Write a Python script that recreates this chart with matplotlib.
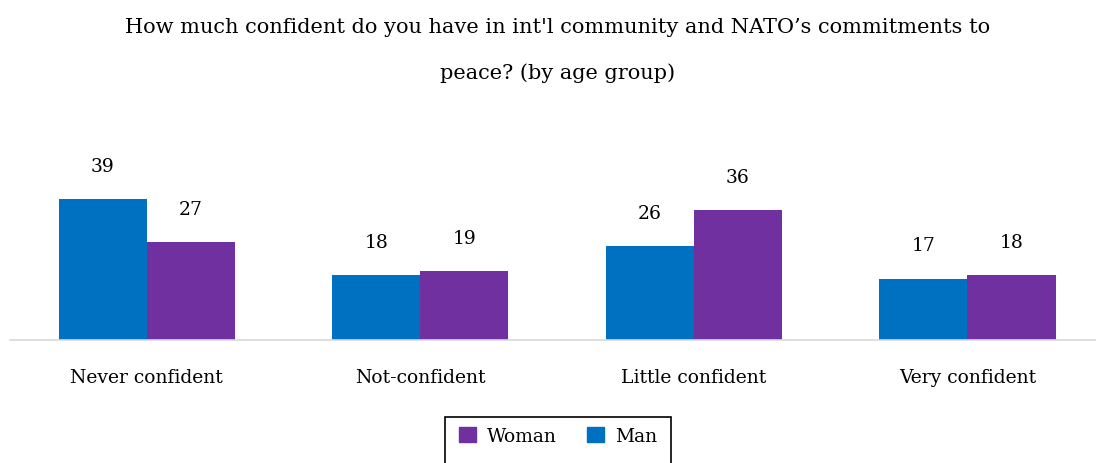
import matplotlib
matplotlib.use('Agg')
import matplotlib.pyplot as plt
from matplotlib.patches import Patch, Rectangle
import numpy as np

categories = ['Never confident', 'Not-confident', 'Little confident', 'Very confident']
man = [39, 18, 26, 17]
woman = [27, 19, 36, 18]

blue = '#0070C0'
purple = '#7030A0'

plt.rcParams['font.family'] = ['DejaVu Serif']

fig = plt.figure(figsize=(10.96, 4.64), dpi=100)
ax = fig.add_axes([10 / 1096, 123 / 464, 1086 / 1096, 45 * 3.615 / 464])

x = np.arange(len(categories))
w = 0.322
bm = ax.bar(x - w / 2, man, w, color=blue, label='Man')
bw = ax.bar(x + w / 2, woman, w, color=purple, label='Woman')

for bars, vals in ((bm, man), (bw, woman)):
    for b, v in zip(bars, vals):
        ax.annotate(str(v), (b.get_x() + b.get_width() / 2, v), xytext=(0, 24),
                    textcoords='offset points', ha='center', va='center',
                    fontsize=13.5, annotation_clip=False)

ax.set_xlim(-0.5, 3.47)
ax.set_ylim(0, 45)
ax.set_yticks([])
ax.set_xticks(x)
ax.set_xticklabels(categories, fontsize=13.5)
ax.tick_params(axis='x', length=0, pad=20)
for s in ('top', 'right', 'left'):
    ax.spines[s].set_visible(False)
ax.spines['bottom'].set_color('#d9d9d9')
ax.spines['bottom'].set_linewidth(1.2)

fig.text(0.509, 0.94, "How much confident do you have in int'l community and NATO\u2019s commitments to",
         ha='center', va='center', fontsize=15)
fig.text(0.509, 0.842, "peace? (by age group)", ha='center', va='center', fontsize=15)

# legend box runs off the bottom edge, so draw the frame separately
fig.patches.append(Rectangle((445 / 1096, -0.05), 226 / 1096, 0.05 + 46 / 464,
                             transform=fig.transFigure, fill=False,
                             edgecolor='black', linewidth=1.2))
handles = [Patch(color=purple, label='Woman'), Patch(color=blue, label='Man')]
fig.legend(handles=handles, loc='center', bbox_to_anchor=(0.509, 27 / 464),
           ncol=2, fontsize=13.5, frameon=False, borderaxespad=0,
           handlelength=0.9, handleheight=0.9, handletextpad=0.6,
           columnspacing=1.6, borderpad=0)

plt.savefig('out.png', dpi=100)
